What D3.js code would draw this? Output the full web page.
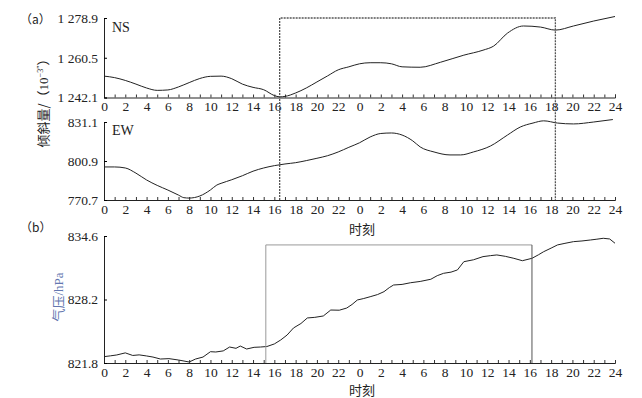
<!DOCTYPE html>
<html>
<head>
<meta charset="utf-8">
<script src="https://cdn.jsdelivr.net/npm/d3@7"></script>
<style>
  body { margin: 0; background: #fff; }
  text { font-family: "Liberation Serif", "Times New Roman", Tinos, "DejaVu Serif", serif; fill: #222; }
  .cjk { font-family: "Noto Sans CJK SC", sans-serif; }
</style>
</head>
<body>
<svg id="SVG_CONTAINER" width="642" height="398"></svg>
<script>
// hours run over two days: 0..48
const nsHours = [0, 1, 2, 3, 4, 5, 6, 7, 8, 9, 10, 11, 12, 13, 14, 15, 16, 16.5, 17, 18, 19, 20, 21, 22, 23, 24, 25, 26, 27, 28, 29.7, 31.6, 33.8, 35.6, 36.6, 37.9, 39.4, 41, 42.4, 44.1, 46, 48];
const nsValues = [1252.0, 1251.3, 1250.0, 1248.3, 1246.5, 1245.4, 1245.6, 1247.0, 1249.0, 1250.9, 1251.9, 1252.0, 1250.8, 1248.3, 1246.8, 1245.7, 1243.0, 1242.4, 1242.6, 1244.2, 1246.5, 1249.3, 1252.1, 1254.9, 1256.3, 1257.7, 1258.2, 1258.2, 1257.7, 1256.3, 1256.1, 1258.4, 1261.7, 1264.0, 1265.9, 1271.9, 1275.2, 1274.7, 1273.3, 1275.2, 1277.5, 1279.6];

const ewHours = [0, 1, 2, 3, 4, 5, 6, 7, 7.5, 8, 9, 10, 10.6, 11, 12, 13, 14, 15, 16, 17, 18, 19, 20, 21, 22, 23, 24, 25, 26, 27, 28, 29, 29.7, 31, 32.5, 33.5, 34.7, 36.3, 37.9, 39.1, 40.3, 41.3, 42.6, 44.1, 46, 47.8];
const ewValues = [796.3, 796.3, 795.5, 791.5, 786.2, 782.0, 778.4, 774.5, 772.5, 772.2, 773.8, 778.5, 782.3, 783.6, 786.4, 789.5, 793.0, 795.5, 797.3, 798.6, 799.6, 801.2, 803.0, 805.0, 807.9, 811.5, 815.0, 819.5, 822.2, 822.6, 821.0, 816.5, 811.8, 807.9, 805.6, 805.6, 807.9, 812.5, 821.0, 827.2, 830.3, 832.0, 830.3, 829.6, 831.1, 833.0];

const pHours = [0, 0.6, 1.2, 2, 2.7, 3.3, 4, 4.6, 5.3, 6.1, 7, 8, 8.6, 9.3, 10, 10.5, 11.2, 11.8, 12.4, 12.8, 13.4, 14.1, 14.7, 15.3, 16, 16.6, 17.2, 17.8, 18.5, 19.1, 19.8, 20.6, 21.3, 22.1, 22.8, 23.3, 23.8, 24.4, 25, 25.7, 26.3, 26.8, 27.2, 28, 28.8, 29.7, 30.7, 31.3, 31.9, 32.6, 33.2, 33.8, 34.7, 35.6, 36.3, 36.9, 37.7, 38.5, 39.3, 40.2, 40.8, 41.3, 42, 42.6, 43.3, 44.1, 44.9, 45.7, 46.3, 46.9, 47.5, 48];
const pValues = [822.44, 822.52, 822.61, 822.82, 822.56, 822.62, 822.51, 822.40, 822.20, 822.24, 822.10, 821.90, 822.20, 822.40, 822.94, 822.91, 823.02, 823.41, 823.28, 823.51, 823.21, 823.38, 823.41, 823.46, 823.72, 824.12, 824.62, 825.33, 825.78, 826.34, 826.40, 826.54, 827.14, 827.12, 827.34, 827.70, 828.15, 828.30, 828.48, 828.70, 828.99, 829.40, 829.66, 829.72, 829.89, 830.02, 830.24, 830.60, 830.84, 830.96, 831.18, 832.01, 832.20, 832.52, 832.62, 832.69, 832.55, 832.35, 832.11, 832.35, 832.70, 833.02, 833.38, 833.70, 833.86, 834.03, 834.10, 834.20, 834.28, 834.37, 834.30, 833.87];

const nsTicks = [1242.1, 1260.5, 1278.9];
const ewTicks = [770.7, 800.9, 831.1];
const pTicks = [821.8, 828.2, 834.6];

// highlighted windows (hours)
const boxA = [16.5, 42.4];
const boxB = [15.2, 40.2];

const SERIF = '"Liberation Serif", "Times New Roman", Tinos, "DejaVu Serif", serif';
const CJK = '"Noto Sans CJK SC", sans-serif';

const svg = d3.select("#SVG_CONTAINER");

const x = d3.scaleLinear().domain([0, 48]).range([104, 615]);

const nsY = d3.scaleLinear().domain([1242.1, 1278.9]).range([97.5, 18]);
const ewY = d3.scaleLinear().domain([770.7, 831.1]).range([200, 122]);
const pY = d3.scaleLinear().domain([821.8, 834.6]).range([363, 236]);

const loc = d3.formatLocale({decimal: ".", thousands: " ", grouping: [3], currency: ["", ""]});
const yFmt = loc.format(",.1f");

function panel(yScale, ticks, hours, values, curve) {
    let g = svg.append("g");
    let yr = yScale.range();

    // bottom axis, ticks every hour pointing up
    let xAxis = d3.axisBottom(x)
        .tickValues(d3.range(0, 49, 1))
        .tickSize(-3)
        .tickFormat(d => (d % 2 === 0) ? (d === 48 ? 24 : d % 24) : "");
    let xa = g.append("g")
        .attr("transform", "translate(0," + yr[0] + ")")
        .call(xAxis);
    xa.attr("font-family", null);
    xa.select(".domain").attr("stroke", "#222");
    xa.selectAll("line").attr("stroke", "#333");
    xa.selectAll("text")
        .attr("y", 4)
        .style("font-size", "13.5px")
        .style("font-family", SERIF);

    let yAxis = d3.axisLeft(yScale)
        .tickValues(ticks)
        .tickSize(-3)
        .tickPadding(6)
        .tickFormat(yFmt);
    let ya = g.append("g")
        .attr("transform", "translate(" + x(0) + ",0)")
        .call(yAxis);
    ya.attr("font-family", null);
    ya.select(".domain").attr("stroke", "#222");
    ya.selectAll("text")
        .style("font-size", "13.5px")
        .style("font-family", SERIF);

    let pts = hours.map((h, i) => [h, values[i]]);
    g.append("path")
        .datum(pts)
        .attr("d", d3.line().x(d => x(d[0])).y(d => yScale(d[1])).curve(curve))
        .attr("fill", "none")
        .attr("stroke", "#222")
        .attr("stroke-width", 1);
    return g;
}

panel(nsY, nsTicks, nsHours, nsValues, d3.curveMonotoneX);
panel(ewY, ewTicks, ewHours, ewValues, d3.curveMonotoneX);
panel(pY, pTicks, pHours, pValues, d3.curveLinear);

// series names
svg.append("text").attr("x", 112).attr("y", 32).style("font-size", "14px").style("font-family", SERIF).text("NS");
svg.append("text").attr("x", 112).attr("y", 135).style("font-size", "14px").style("font-family", SERIF).text("EW");

// panel letters
svg.append("text").attr("x", 20).attr("y", 24).style("font-size", "12px").style("font-family", CJK).text("（a）");
svg.append("text").attr("x", 20).attr("y", 232).style("font-size", "12px").style("font-family", CJK).text("（b）");

// x titles
svg.append("text").attr("x", 362).attr("y", 234)
    .attr("text-anchor", "middle").style("font-size", "13px").style("font-family", CJK).text("时刻");
svg.append("text").attr("x", 362).attr("y", 395)
    .attr("text-anchor", "middle").style("font-size", "13px").style("font-family", CJK).text("时刻");

// y titles
let yl = svg.append("text")
    .attr("transform", "translate(48,100) rotate(-90)")
    .attr("text-anchor", "middle")
    .style("font-size", "13px");
yl.append("tspan").style("font-family", CJK).text("倾斜量/（");
yl.append("tspan").style("font-family", SERIF).text("10");
yl.append("tspan").style("font-family", SERIF).style("font-size", "8px").attr("dy", -5).text("−3″");
yl.append("tspan").style("font-family", CJK).attr("dy", 5).text("）");

let pl = svg.append("text")
    .attr("transform", "translate(63,297) rotate(-90)")
    .attr("text-anchor", "middle")
    .style("font-size", "13px");
pl.append("tspan").style("font-family", CJK).style("fill", "#6477b0").text("气压");
pl.append("tspan").style("font-family", SERIF).style("fill", "#6477b0").text("/hPa");

// highlighted windows
let boxes = svg.append("g").attr("fill", "none");
boxes.append("path")
    .attr("d", "M" + x(boxA[0]) + "," + ewY.range()[0] + "V" + nsY(1278.9) + "H" + x(boxA[1]) + "V" + ewY.range()[0])
    .attr("stroke", "#555")
    .attr("stroke-width", 1.3)
    .attr("stroke-dasharray", "2,1");
boxes.append("path")
    .attr("d", "M" + x(boxB[0]) + "," + pY(821.8) + "V" + pY(833.7) + "H" + x(boxB[1]))
    .attr("stroke", "#999")
    .attr("stroke-width", 1);
boxes.append("path")
    .attr("d", "M" + x(boxB[1]) + "," + pY(833.7) + "V" + pY(821.8))
    .attr("stroke", "#555")
    .attr("stroke-width", 1);
</script>
</body>
</html>
